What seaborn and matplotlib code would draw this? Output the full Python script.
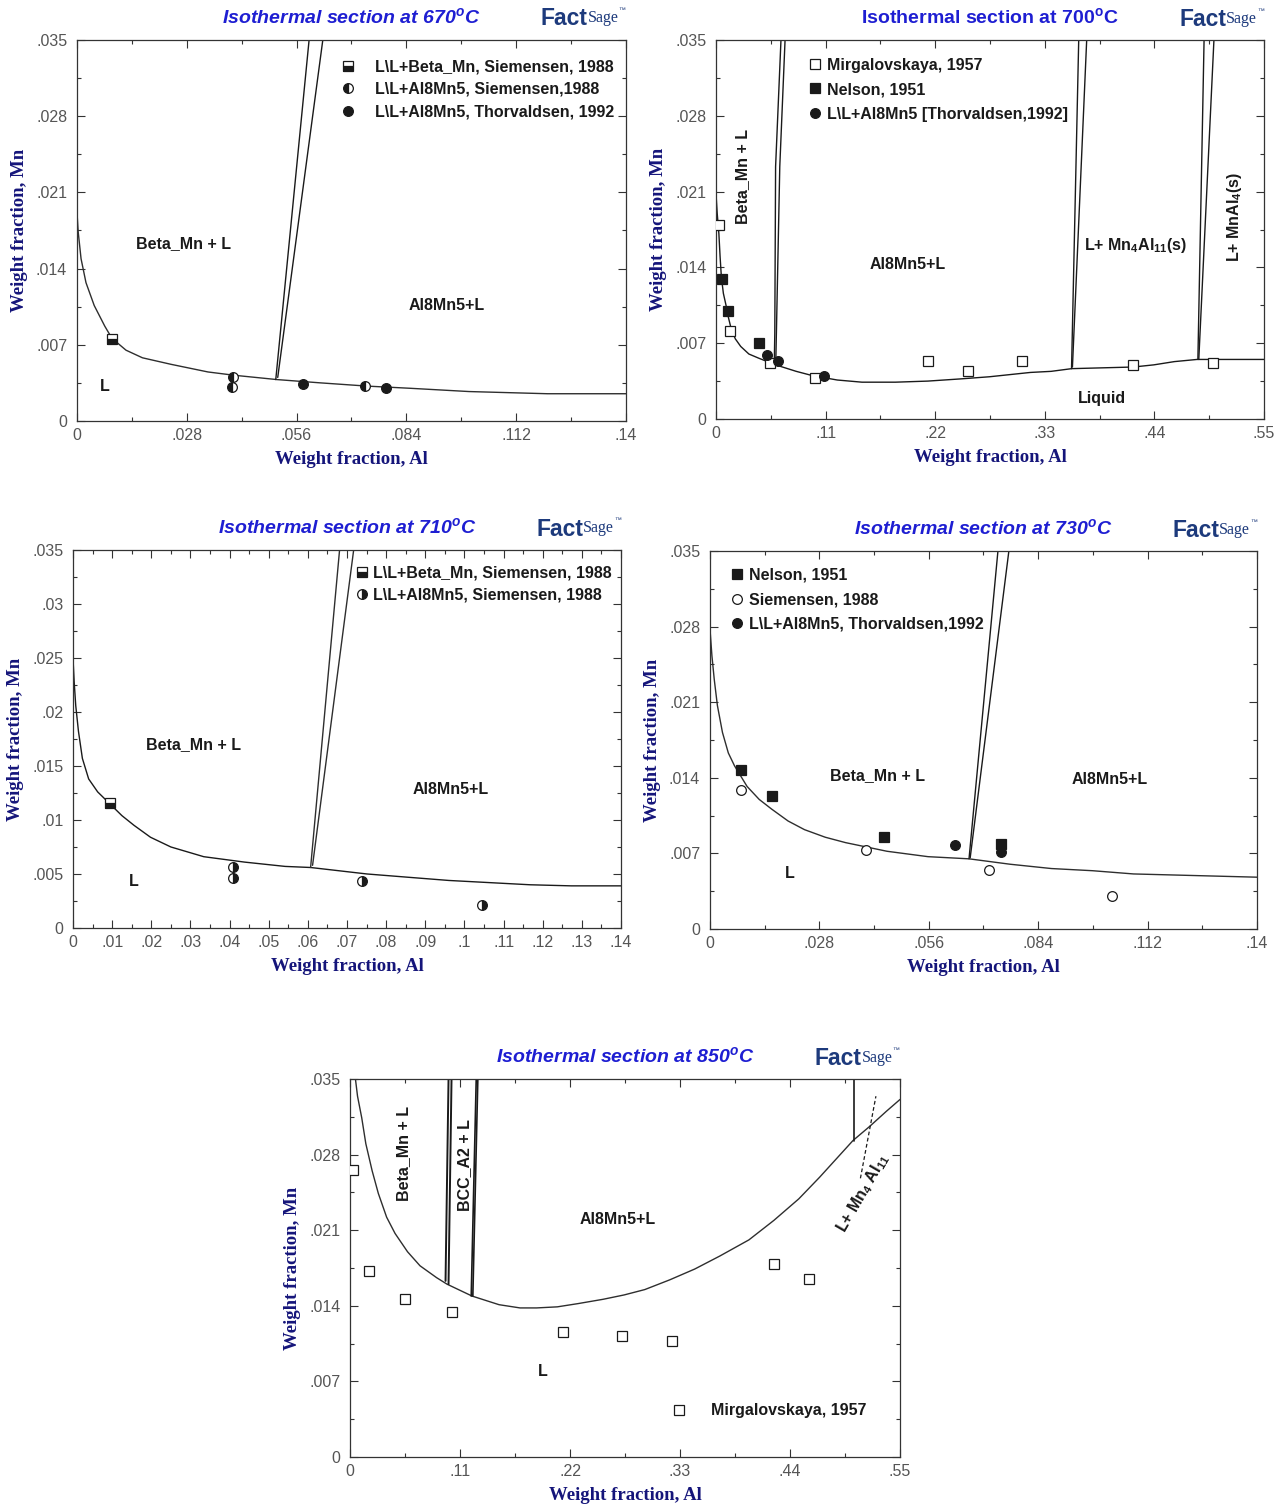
import numpy as np
import seaborn as sns
import matplotlib.pyplot as plt
from matplotlib.lines import Line2D
from matplotlib.ticker import FuncFormatter

sns.set_theme(style='ticks')
plt.rcParams['font.family'] = ['Liberation Sans', 'DejaVu Sans']
plt.rcParams['mathtext.fontset'] = 'custom'
plt.rcParams['mathtext.rm'] = 'Liberation Sans:bold'
plt.rcParams['mathtext.it'] = 'Liberation Sans:bold:italic'
plt.rcParams['mathtext.bf'] = 'Liberation Sans:bold'

TITLE_C = '#1e1ed2'
LABEL_C = '#15157a'
LOGO_C = '#1d3a7c'
INK = '#1a1a1a'
CURVE_C = '#2e2e2e'

# ---------------- 670 C ----------------
liq670_x = [0, 0.0003, 0.00104, 0.0023, 0.0044, 0.0071, 0.0089, 0.0125, 0.0167, 0.024,
            0.0334, 0.040, 0.051, 0.062, 0.074, 0.085, 0.100, 0.120, 0.140]
liq670_y = [0.0192, 0.0174, 0.0149, 0.0127, 0.0106, 0.0087, 0.0076, 0.0065, 0.0058, 0.0052,
            0.0045, 0.0042, 0.0038, 0.0035, 0.0032, 0.0030, 0.0027, 0.0025, 0.0025]
b670a_x, b670a_y = [0.0507, 0.0592], [0.0038, 0.035]
b670b_x, b670b_y = [0.0512, 0.0627], [0.0040, 0.035]
sbmn670_x, sbmn670_y = [0.0089], [0.00756]
sal670_x, sal670_y = [0.0399, 0.0395, 0.0734], [0.00401, 0.00309, 0.00324]
thor670_x, thor670_y = [0.0576, 0.0787], [0.0034, 0.0030]

# ---------------- 700 C ----------------
liq700_x = [0, 0.0012, 0.0029, 0.0041, 0.0054, 0.0074, 0.0103, 0.0124, 0.0153, 0.0194,
            0.0248, 0.033, 0.0433, 0.0598, 0.0805, 0.097, 0.1217, 0.1465, 0.180, 0.2125,
            0.245, 0.2744, 0.3156, 0.3363, 0.357, 0.3775, 0.4188, 0.4394, 0.460, 0.4828,
            0.520, 0.550]
liq700_y = [0.0208, 0.0190, 0.0171, 0.0150, 0.0131, 0.0116, 0.0104, 0.0094, 0.0083, 0.0074,
            0.0067, 0.0060, 0.0056, 0.0050, 0.0044, 0.0040, 0.0036, 0.0034, 0.0034, 0.0035,
            0.0037, 0.0039, 0.0043, 0.0044, 0.00465, 0.0047, 0.0048, 0.0050, 0.0053, 0.0055,
            0.0055, 0.0055]
b700a_x, b700a_y = [0.0585, 0.0590, 0.0598, 0.0652], [0.0052, 0.0079, 0.0233, 0.035]
b700b_x, b700b_y = [0.0600, 0.0606, 0.0640, 0.0693], [0.0053, 0.0079, 0.0233, 0.035]
b700c_x, b700c_y = [0.3568, 0.3640], [0.00465, 0.035]
b700d_x, b700d_y = [0.3577, 0.3720], [0.0048, 0.035]
b700e_x, b700e_y = [0.4836, 0.4898], [0.0055, 0.035]
b700f_x, b700f_y = [0.4845, 0.4997], [0.0055, 0.035]
mir700_x = [0.0029, 0.0144, 0.054, 0.0998, 0.2125, 0.253, 0.3066, 0.4188, 0.4984]
mir700_y = [0.0179, 0.0081, 0.0052, 0.0038, 0.0054, 0.0044, 0.0054, 0.0050, 0.0052]
nel700_x, nel700_y = [0.0062, 0.0124, 0.0433], [0.0129, 0.0100, 0.0070]
thor700_x, thor700_y = [0.0512, 0.0619, 0.108], [0.0059, 0.0054, 0.0040]

# ---------------- 710 C ----------------
liq710_x = [0, 0.0003, 0.0007, 0.0014, 0.0024, 0.004, 0.0063, 0.0094, 0.0125, 0.0156,
            0.0198, 0.025, 0.0334, 0.0438, 0.0542, 0.0607, 0.0751, 0.0855, 0.096, 0.1064,
            0.1168, 0.1273, 0.14]
liq710_y = [0.0250, 0.0228, 0.0206, 0.0182, 0.0157, 0.0138, 0.0126, 0.0115, 0.0104, 0.0095,
            0.0084, 0.0075, 0.0066, 0.0061, 0.0057, 0.0056, 0.0050, 0.0047, 0.0044, 0.0042,
            0.0040, 0.0039, 0.0039]
b710a_x, b710a_y = [0.0607, 0.0681], [0.0056, 0.035]
b710b_x, b710b_y = [0.0612, 0.0717], [0.0058, 0.035]
sbmn710_x, sbmn710_y = [0.0095], [0.01158]
sal710_x, sal710_y = [0.0409, 0.0409, 0.0739, 0.1045], [0.00565, 0.00466, 0.00432, 0.00216]

# ---------------- 730 C ----------------
liq730_x = [0, 0.0005, 0.0011, 0.0019, 0.0032, 0.0047, 0.0063, 0.0095, 0.0126, 0.0158,
            0.020, 0.0242, 0.0295, 0.0347, 0.0453, 0.0558, 0.0663, 0.0768, 0.0874, 0.0979,
            0.1084, 0.119, 0.1295, 0.14]
liq730_y = [0.0278, 0.0253, 0.0231, 0.0207, 0.0182, 0.0163, 0.0151, 0.0132, 0.0120, 0.0111,
            0.0100, 0.0092, 0.0085, 0.0080, 0.0072, 0.0067, 0.0065, 0.0060, 0.0056, 0.0054,
            0.0051, 0.0050, 0.0049, 0.0048]
b730a_x, b730a_y = [0.0663, 0.0737], [0.0065, 0.035]
b730b_x, b730b_y = [0.0666, 0.0765], [0.0066, 0.035]
nel730_x, nel730_y = [0.008, 0.016, 0.0446, 0.0745], [0.0147, 0.0123, 0.0085, 0.0079]
sie730_x, sie730_y = [0.008, 0.0399, 0.0714, 0.1028], [0.0129, 0.0073, 0.0055, 0.0031]
thor730_x, thor730_y = [0.0626, 0.0745], [0.0078, 0.0071]

# ---------------- 850 C ----------------
liq850_x = [0.0054, 0.0075, 0.0117, 0.0158, 0.0221, 0.0283, 0.0366, 0.0450, 0.0575, 0.0700,
            0.0866, 0.097, 0.122, 0.149, 0.170, 0.1865, 0.2073, 0.228, 0.2531, 0.274,
            0.2948, 0.3197, 0.3447, 0.3697, 0.3989, 0.4238, 0.4488, 0.4696, 0.4863, 0.5030,
            0.5196, 0.5363, 0.55]
liq850_y = [0.0350, 0.0334, 0.0314, 0.0290, 0.0265, 0.0244, 0.0222, 0.0207, 0.0190, 0.0177,
            0.0166, 0.0160, 0.0149, 0.0141, 0.0138, 0.0138, 0.0139, 0.0142, 0.0146, 0.0150,
            0.0155, 0.0164, 0.0174, 0.0186, 0.0201, 0.0219, 0.0239, 0.0259, 0.0276, 0.0293,
            0.0306, 0.0320, 0.0331]
b850a_x, b850a_y = [0.0955, 0.0985], [0.0163, 0.035]
b850b_x, b850b_y = [0.0985, 0.1015], [0.0160, 0.035]
b850c_x, b850c_y = [0.1212, 0.1262], [0.0149, 0.035]
b850d_x, b850d_y = [0.1228, 0.1278], [0.0149, 0.035]
b850e_x, b850e_y = [0.5038, 0.5038], [0.0293, 0.035]
b850f_x, b850f_y = [0.5104, 0.5259], [0.0258, 0.0334]
mir850_x = [0.0033, 0.0187, 0.055, 0.1024, 0.2127, 0.2723, 0.3218, 0.4238, 0.4592]
mir850_y = [0.0266, 0.0172, 0.0146, 0.0134, 0.0116, 0.0112, 0.0107, 0.0179, 0.0165]

# ticks
ticks_y7 = [0, 0.007, 0.014, 0.021, 0.028, 0.035]
ticks_y5 = [0, 0.005, 0.01, 0.015, 0.02, 0.025, 0.03, 0.035]
ticks_x14 = [0, 0.028, 0.056, 0.084, 0.112, 0.14]
ticks_x10 = [0, 0.01, 0.02, 0.03, 0.04, 0.05, 0.06, 0.07, 0.08, 0.09, 0.10, 0.11, 0.12, 0.13, 0.14]
ticks_x55 = [0, 0.11, 0.22, 0.33, 0.44, 0.55]


def frac_fmt(v, pos):
    if abs(v) < 1e-9:
        return '0'
    s = f'{v:.4f}'.rstrip('0').rstrip('.')
    return s[1:] if s.startswith('0.') else s


def halves(t):
    t = np.asarray(t)
    return (t[:-1] + t[1:]) / 2


def setup(ax, xt, yt, title, italic=True):
    ax.set_xlim(xt[0], xt[-1])
    ax.set_ylim(yt[0], yt[-1])
    ax.set_xticks(xt)
    ax.set_yticks(yt)
    ax.set_xticks(halves(xt), minor=True)
    ax.set_yticks(halves(yt), minor=True)
    ax.xaxis.set_major_formatter(FuncFormatter(frac_fmt))
    ax.yaxis.set_major_formatter(FuncFormatter(frac_fmt))
    ax.tick_params(which='both', direction='in', top=True, right=True,
                   color='#333333', width=0.8)
    ax.tick_params(which='major', length=6, labelsize=11.5, labelcolor='#555555')
    ax.tick_params(which='minor', length=3)
    ax.tick_params(axis='y', which='major', pad=7)
    ax.tick_params(axis='x', which='major', pad=5)
    for sp in ax.spines.values():
        sp.set_color('#333333')
        sp.set_linewidth(0.9)
    lab = dict(family='Liberation Serif', weight='bold', color=LABEL_C, size=13.5)
    ax.set_xlabel('Weight fraction, Al', labelpad=6, **lab)
    ax.set_ylabel('Weight fraction, Mn', labelpad=6, **lab)
    ax.text(0.5, 1.06, title, transform=ax.transAxes, ha='center', va='center',
            color=TITLE_C, fontsize=14, fontweight='bold',
            style='italic' if italic else 'normal')
    # FactSage logo
    f = ax.text(0.845, 1.055, 'Fact', transform=ax.transAxes, ha='left', va='center',
                color=LOGO_C, fontsize=16.5, fontweight='bold')
    s = ax.annotate('Sage', xy=(1, 0.18), xycoords=f, ha='left', va='bottom',
                    color=LOGO_C, fontsize=11.5, family='Liberation Serif')
    ax.annotate('\u2122', xy=(1, 0.75), xycoords=s, ha='left', va='bottom',
                color=LOGO_C, fontsize=5)


def curve(ax, xs, ys, color=CURVE_C, lw=1.0, ls='-'):
    sns.lineplot(x=xs, y=ys, sort=False, estimator=None, ax=ax,
                 color=color, lw=lw, linestyle=ls)


def pts(ax, xs, ys, kind):
    ax.plot(xs, ys, ls='none', zorder=5, **MK[kind])


MK = {
    'sq_open': dict(marker='s', ms=6.5, mfc='white', mec=INK, mew=0.9),
    'sq_fill': dict(marker='s', ms=6.5, mfc=INK, mec=INK, mew=0.9),
    'ci_open': dict(marker='o', ms=7, mfc='white', mec=INK, mew=0.9),
    'ci_fill': dict(marker='o', ms=7, mfc=INK, mec=INK, mew=0.9),
    'sq_half': dict(marker='s', ms=6.5, mfc=INK, mec=INK, mew=0.9,
                    fillstyle='bottom', markerfacecoloralt='white'),
    'ci_left': dict(marker='o', ms=7, mfc=INK, mec=INK, mew=0.9,
                    fillstyle='left', markerfacecoloralt='white'),
    'ci_right': dict(marker='o', ms=7, mfc=INK, mec=INK, mew=0.9,
                     fillstyle='right', markerfacecoloralt='white'),
}


def legend(ax, kinds, labels, mx, row1, step_px, gap_px):
    bb = ax.get_position()
    W, H = bb.width * 1285, bb.height * 1505
    fs_px = 11.5 * 100 / 72
    hl = 1.0
    handles = [Line2D([], [], ls='none', **MK[k]) for k in kinds]
    ax.legend(handles, labels, loc='upper left',
              bbox_to_anchor=(mx - hl * fs_px / 2 / W, row1 + 9 / H),
              frameon=False, borderpad=0, borderaxespad=0, numpoints=1,
              handlelength=hl, handletextpad=(gap_px - hl * fs_px / 2) / fs_px,
              labelspacing=(step_px - 18) / fs_px,
              prop=dict(size=11.5, weight='bold'), labelcolor=INK)


def label(ax, x, y, s, rot=0, size=11.5):
    ax.text(x, y, s, ha='center', va='center', rotation=rot, fontsize=size,
            fontweight='bold', color=INK, rotation_mode='anchor')


fig = plt.figure(figsize=(12.85, 15.05), dpi=100)
fig.patch.set_facecolor('white')

ax1 = fig.add_axes([0.0599, 0.7203, 0.4272, 0.2532])
ax2 = fig.add_axes([0.5572, 0.7216, 0.4265, 0.2518])
ax3 = fig.add_axes([0.0568, 0.3834, 0.4265, 0.2512])
ax4 = fig.add_axes([0.5525, 0.3827, 0.4257, 0.2512])
ax5 = fig.add_axes([0.2724, 0.0319, 0.4280, 0.2512])

# 670
curve(ax1, liq670_x, liq670_y)
curve(ax1, b670a_x, b670a_y, color=INK)
curve(ax1, b670b_x, b670b_y, color=INK)
pts(ax1, sbmn670_x, sbmn670_y, 'sq_half')
pts(ax1, sal670_x, sal670_y, 'ci_left')
pts(ax1, thor670_x, thor670_y, 'ci_fill')
label(ax1, 0.0272, 0.0163, 'Beta_Mn + L')
label(ax1, 0.0944, 0.0106, 'Al8Mn5+L')
label(ax1, 0.0071, 0.0032, 'L')
setup(ax1, ticks_x14, ticks_y7, r'Isothermal section at 670$^{o}$C')
legend(ax1, ['sq_half', 'ci_left', 'ci_fill'],
       ['L\\L+Beta_Mn, Siemensen, 1988', 'L\\L+Al8Mn5, Siemensen,1988',
        'L\\L+Al8Mn5, Thorvaldsen, 1992'], 0.493, 0.925, 25.5, 26.9)

# 700
curve(ax2, liq700_x, liq700_y, color=INK)
for bx, by in [(b700a_x, b700a_y), (b700b_x, b700b_y), (b700c_x, b700c_y),
               (b700d_x, b700d_y), (b700e_x, b700e_y), (b700f_x, b700f_y)]:
    curve(ax2, bx, by, color=INK)
pts(ax2, mir700_x, mir700_y, 'sq_open')
pts(ax2, nel700_x, nel700_y, 'sq_fill')
pts(ax2, thor700_x, thor700_y, 'ci_fill')
label(ax2, 0.0268, 0.0224, 'Beta_Mn + L', rot=90)
label(ax2, 0.1927, 0.0143, 'Al8Mn5+L')
label(ax2, 0.421, 0.0160, r'L+ Mn$_4$Al$_{11}$(s)')
label(ax2, 0.520, 0.0187, r'L+ MnAl$_4$(s)', rot=90)
label(ax2, 0.387, 0.0019, 'Liquid')
setup(ax2, ticks_x55, ticks_y7, r'Isothermal section at 700$^{\mathregular{o}}$C', italic=False)
legend(ax2, ['sq_open', 'sq_fill', 'ci_fill'],
       ['Mirgalovskaya, 1957', 'Nelson, 1951', 'L\\L+Al8Mn5 [Thorvaldsen,1992]'],
       0.181, 0.930, 27.5, 12.3)

# 710
curve(ax3, liq710_x, liq710_y, color=INK)
curve(ax3, b710a_x, b710a_y, color=CURVE_C)
curve(ax3, b710b_x, b710b_y, color=CURVE_C)
pts(ax3, sbmn710_x, sbmn710_y, 'sq_half')
pts(ax3, sal710_x, sal710_y, 'ci_right')
label(ax3, 0.0308, 0.0170, 'Beta_Mn + L')
label(ax3, 0.0965, 0.0128, 'Al8Mn5+L')
label(ax3, 0.0156, 0.0043, 'L')
setup(ax3, ticks_x10, ticks_y5, r'Isothermal section at 710$^{o}$C')
legend(ax3, ['sq_half', 'ci_right'],
       ['L\\L+Beta_Mn, Siemensen, 1988', 'L\\L+Al8Mn5, Siemensen, 1988'],
       0.528, 0.934, 25, 10.2)

# 730
curve(ax4, liq730_x, liq730_y)
curve(ax4, b730a_x, b730a_y, color=INK)
curve(ax4, b730b_x, b730b_y, color=INK)
pts(ax4, nel730_x, nel730_y, 'sq_fill')
pts(ax4, sie730_x, sie730_y, 'ci_open')
pts(ax4, thor730_x, thor730_y, 'ci_fill')
label(ax4, 0.0429, 0.0142, 'Beta_Mn + L')
label(ax4, 0.1023, 0.0138, 'Al8Mn5+L')
label(ax4, 0.0203, 0.0051, 'L')
setup(ax4, ticks_x14, ticks_y7, r'Isothermal section at 730$^{o}$C')
legend(ax4, ['sq_fill', 'ci_open', 'ci_fill'],
       ['Nelson, 1951', 'Siemensen, 1988', 'L\\L+Al8Mn5, Thorvaldsen,1992'],
       0.049, 0.932, 27.5, 12.3)

# 850
curve(ax5, liq850_x, liq850_y)
curve(ax5, b850a_x, b850a_y, color=INK, lw=1.4)
curve(ax5, b850b_x, b850b_y, color=INK, lw=1.4)
curve(ax5, b850c_x, b850c_y, color=INK, lw=1.2)
curve(ax5, b850d_x, b850d_y, color=INK, lw=1.2)
curve(ax5, b850e_x, b850e_y, color=INK, lw=1.2)
curve(ax5, b850f_x, b850f_y, color=INK, lw=0.9, ls=(0, (3, 2)))
pts(ax5, mir850_x, mir850_y, 'sq_open')
label(ax5, 0.0533, 0.0281, 'Beta_Mn + L', rot=90)
label(ax5, 0.115, 0.0270, 'BCC_A2 + L', rot=90)
label(ax5, 0.2677, 0.0220, 'Al8Mn5+L')
label(ax5, 0.1928, 0.0079, 'L')
label(ax5, 0.513, 0.0244, r'L+ Mn$_4$ Al$_{11}$', rot=60)
setup(ax5, ticks_x55, ticks_y7, r'Isothermal section at 850$^{o}$C')
legend(ax5, ['sq_open'], ['Mirgalovskaya, 1957'], 0.599, 0.118, 25, 31.2)

fig.savefig('out.png', dpi=100, facecolor='white')
